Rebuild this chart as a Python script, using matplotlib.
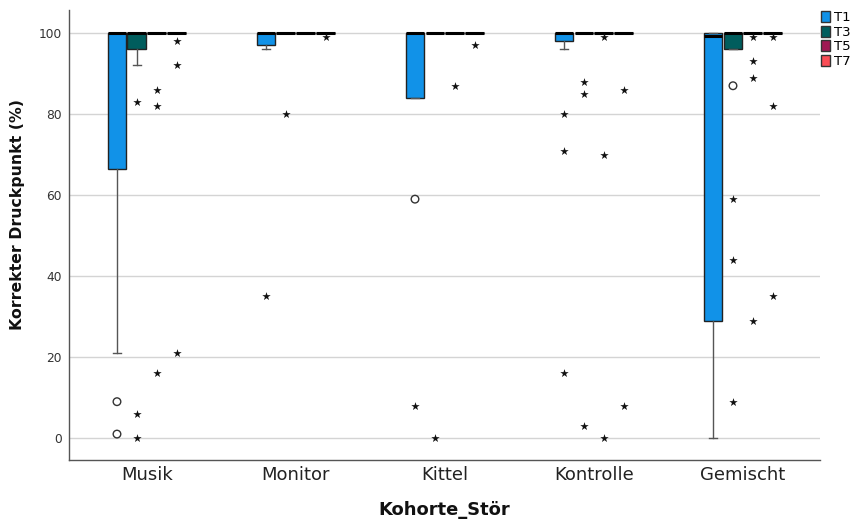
import matplotlib
matplotlib.use("Agg")
import matplotlib.pyplot as plt
from matplotlib.patches import Patch

# ---------------- data ----------------
groups = ["Musik", "Monitor", "Kittel", "Kontrolle", "Gemischt"]
series = ["T1", "T3", "T5", "T7"]
colors = ["#1192e8", "#005d5d", "#9f1853", "#fa4d56"]

# box statistics per series (one value per group)
T1_q1 = [66.5, 97, 84, 98, 29]
T1_med = [100, 100, 100, 100, 99.3]
T1_q3 = [100, 100, 100, 100, 100]
T1_lo = [21, 96, 84, 96, 0]
T1_hi = [100, 100, 100, 100, 100]

T3_q1 = [96, 100, 100, 100, 96]
T3_med = [100, 100, 100, 100, 100]
T3_q3 = [100, 100, 100, 100, 100]
T3_lo = [92, 100, 100, 100, 96]
T3_hi = [100, 100, 100, 100, 100]

T5_q1 = [100, 100, 100, 100, 100]
T5_med = [100, 100, 100, 100, 100]
T5_q3 = [100, 100, 100, 100, 100]
T5_lo = [100, 100, 100, 100, 100]
T5_hi = [100, 100, 100, 100, 100]

T7_q1 = [100, 100, 100, 100, 100]
T7_med = [100, 100, 100, 100, 100]
T7_q3 = [100, 100, 100, 100, 100]
T7_lo = [100, 100, 100, 100, 100]
T7_hi = [100, 100, 100, 100, 100]

# outliers (circles) and extremes (stars) per series, per group
T1_out = [[9, 1], [], [59], [], []]
T1_ext = [[], [35], [8], [80, 71, 16], []]
T3_out = [[], [], [], [], [87]]
T3_ext = [[83, 6, 0], [80], [0], [88, 85, 3], [59, 44, 9]]
T5_out = [[], [], [], [], []]
T5_ext = [[86, 82, 16], [], [87], [99, 70, 0], [99, 93, 89, 29]]
T7_out = [[], [], [], [], []]
T7_ext = [[98, 92, 21], [99], [97], [86, 8], [99, 82, 35]]

yticks = [0, 20, 40, 60, 80, 100]

stats_all = [
    (T1_q1, T1_med, T1_q3, T1_lo, T1_hi, T1_out, T1_ext),
    (T3_q1, T3_med, T3_q3, T3_lo, T3_hi, T3_out, T3_ext),
    (T5_q1, T5_med, T5_q3, T5_lo, T5_hi, T5_out, T5_ext),
    (T7_q1, T7_med, T7_q3, T7_lo, T7_hi, T7_out, T7_ext),
]

# ---------------- figure ----------------
W, H = 863, 519
fig = plt.figure(figsize=(W / 100, H / 100), dpi=100)
ax = fig.add_axes([69 / W, 59 / H, (820 - 69) / W, (509 - 59) / H])

offsets = [-0.201, -0.067, 0.067, 0.201]
width = 0.127

for si, (q1, med, q3, lo, hi, outs, exts) in enumerate(stats_all):
    st = []
    for g in range(len(groups)):
        st.append(dict(q1=q1[g], med=med[g], q3=q3[g], whislo=lo[g],
                       whishi=hi[g], fliers=[]))
    pos = [g + offsets[si] for g in range(len(groups))]
    ax.bxp(st, positions=pos, widths=width, patch_artist=True,
           showfliers=False, manage_ticks=False, capwidths=0.055,
           boxprops=dict(facecolor=colors[si], edgecolor="#222222", linewidth=1),
           medianprops=dict(color="black", linewidth=2.2),
           whiskerprops=dict(color="#555555", linewidth=1),
           capprops=dict(color="#555555", linewidth=1), zorder=3)
    for g in range(len(groups)):
        if outs[g]:
            ax.scatter([pos[g]] * len(outs[g]), outs[g], marker="o",
                       facecolors="none", edgecolors="#333333", s=30,
                       linewidths=1, zorder=4)
        if exts[g]:
            ax.scatter([pos[g]] * len(exts[g]), exts[g], marker="*",
                       color="#111111", s=40, linewidths=0, zorder=4)

ax.set_xlim(-0.523, 4.517)
ax.set_ylim(-5.4, 105.7)
ax.set_yticks(yticks)
ax.set_yticklabels([str(v) for v in yticks], color="#333333", fontsize=8.8)
ax.set_xticks(range(len(groups)))
ax.set_xticklabels(groups, fontsize=13, color="#222222")
ax.tick_params(axis="y", length=0, pad=5)
ax.tick_params(axis="x", length=0, pad=4.5)
ax.yaxis.grid(True, color="#d4d4d4", linewidth=1)
ax.set_axisbelow(True)
for s in ["top", "right"]:
    ax.spines[s].set_visible(False)
for s in ["left", "bottom"]:
    ax.spines[s].set_color("#555555")
    ax.spines[s].set_linewidth(1)

fig.text(444.5 / W, (519 - 515) / H, "Kohorte_Stör", ha="center",
         va="baseline", fontsize=12.9, fontweight="bold", color="#111111")
fig.text(18 / W, (519 - 215) / H, "Korrekter Druckpunkt (%)", ha="center",
         va="center", rotation=90, fontsize=11.3, fontweight="bold",
         color="#111111")

handles = [Patch(facecolor=c, edgecolor="#333333", linewidth=1) for c in colors]
fig.legend(handles, series, loc="upper left",
           bbox_to_anchor=(821 / W, 1 - 11 / H), frameon=False, borderpad=0,
           borderaxespad=0, handlelength=0.7, handleheight=0.95,
           handletextpad=0.25, labelspacing=0.1, fontsize=9.5)

fig.savefig("out.png", dpi=100)
